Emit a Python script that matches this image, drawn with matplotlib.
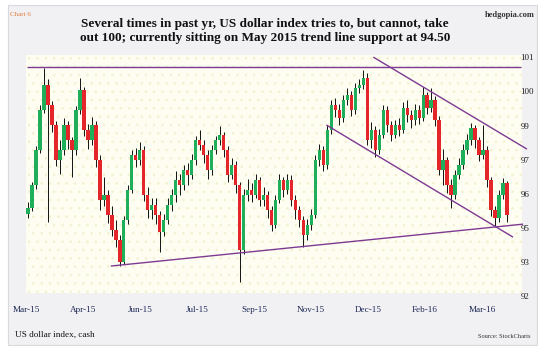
import numpy as np
import matplotlib
matplotlib.use("Agg")
import matplotlib.pyplot as plt
from matplotlib.patches import Rectangle

# US dollar index, cash - roughly two trading days per candle, Mar-15 .. Mar-16
opens = [95.10, 95.32, 96.18, 97.50, 99.01, 99.95, 99.20, 98.45, 97.13, 97.50,
         98.45, 97.88, 97.50, 99.01, 99.77, 98.26, 97.88, 98.45, 97.13, 95.62,
         95.81, 95.05, 94.49, 94.11, 93.28, 94.87, 96.00, 97.32, 97.13, 97.50,
         95.81, 95.24, 95.43, 95.05, 94.41, 94.87, 95.43, 95.81, 96.37, 96.18,
         96.75, 96.56, 97.13, 97.88, 97.69, 97.32, 96.75, 97.50, 97.88, 98.07,
         97.50, 96.56, 96.94, 96.18, 93.73, 95.81, 96.00, 95.81, 96.37, 95.62,
         95.81, 95.24, 94.68, 95.62, 96.37, 96.00, 96.37, 95.62, 95.24, 94.87,
         94.30, 94.68, 95.05, 97.13, 97.50, 96.94, 98.26, 99.20, 99.01, 98.71,
         99.39, 99.58, 99.01, 99.84, 99.95, 100.22, 97.88, 98.26, 97.50, 98.07,
         99.01, 98.45, 98.07, 98.45, 98.26, 99.09, 98.82, 98.64, 99.01, 98.71,
         99.58, 99.09, 99.39, 98.64, 96.75, 97.13, 96.18, 95.81, 96.56, 96.94,
         97.50, 97.88, 98.33, 97.88, 97.32, 97.50, 96.37, 95.24, 94.95, 95.81,
         96.26]
closes = [95.32, 96.18, 97.50, 99.01, 99.95, 99.20, 98.45, 97.13, 97.50, 98.45,
          97.88, 97.50, 99.01, 99.77, 98.26, 97.88, 98.45, 97.13, 95.62, 95.81,
          95.05, 94.49, 94.11, 93.28, 94.87, 96.00, 97.32, 97.13, 97.50, 95.81,
          95.24, 95.43, 95.05, 94.41, 94.87, 95.43, 95.81, 96.37, 96.18, 96.75,
          96.56, 97.13, 97.88, 97.69, 97.32, 96.75, 97.50, 97.88, 98.07, 97.50,
          96.56, 96.94, 96.18, 93.73, 95.81, 96.00, 95.81, 96.37, 95.62, 95.81,
          95.24, 94.68, 95.62, 96.37, 96.00, 96.37, 95.62, 95.24, 94.87, 94.30,
          94.68, 95.05, 97.13, 97.50, 96.94, 98.26, 99.20, 99.01, 98.71, 99.39,
          99.58, 99.01, 99.84, 99.95, 100.22, 97.88, 98.26, 97.50, 98.07, 99.01,
          98.45, 98.07, 98.45, 98.26, 99.09, 98.82, 98.64, 99.01, 98.71, 99.58,
          99.09, 99.39, 98.64, 96.75, 97.13, 96.18, 95.81, 96.56, 96.94, 97.50,
          97.88, 98.33, 97.88, 97.32, 97.50, 96.37, 95.24, 94.95, 95.81, 96.26,
          95.05]
highs = [95.55, 96.30, 97.65, 99.20, 100.60, 100.20, 99.35, 98.60, 97.90, 98.70,
         98.60, 98.00, 99.15, 100.22, 99.90, 98.50, 98.75, 98.60, 97.30, 96.50,
         96.00, 95.40, 94.85, 94.30, 95.00, 96.20, 97.50, 97.60, 97.80, 97.65,
         96.10, 95.70, 95.70, 95.20, 95.10, 95.70, 96.05, 96.70, 96.60, 96.95,
         97.00, 97.35, 98.05, 98.26, 97.90, 97.50, 97.70, 98.05, 98.40, 98.20,
         97.65, 97.20, 97.10, 96.30, 96.05, 96.40, 96.25, 96.60, 96.50, 96.10,
         95.95, 95.40, 95.80, 96.60, 96.50, 96.60, 96.55, 95.80, 95.40, 95.00,
         94.90, 95.30, 97.30, 97.75, 97.65, 98.45, 99.40, 99.45, 99.25, 99.60,
         99.85, 99.75, 100.05, 100.20, 100.52, 100.40, 98.55, 98.40, 98.30, 99.20,
         99.15, 98.60, 98.65, 98.70, 99.30, 99.40, 99.00, 99.25, 99.20, 99.88,
         99.70, 99.84, 99.55, 98.80, 97.55, 97.25, 96.40, 96.75, 97.20, 97.75,
         98.10, 98.52, 98.45, 98.00, 98.45, 97.65, 96.50, 95.40, 96.00, 96.45,
         96.35]
lows = [94.95, 95.20, 96.05, 97.40, 98.90, 94.80, 98.20, 96.90, 96.60, 97.30,
        97.55, 96.50, 97.30, 98.85, 98.05, 97.55, 97.70, 96.85, 95.25, 95.40,
        94.75, 94.25, 93.85, 93.15, 93.20, 94.70, 95.90, 96.85, 96.95, 95.60,
        94.95, 94.90, 94.70, 93.66, 94.25, 94.70, 95.20, 95.55, 95.80, 96.00,
        96.20, 96.40, 96.95, 97.50, 97.00, 96.40, 96.55, 97.35, 97.70, 97.25,
        96.30, 96.40, 95.90, 92.53, 93.60, 95.60, 95.55, 95.70, 95.40, 95.40,
        94.95, 94.45, 94.55, 95.50, 95.75, 95.85, 95.40, 94.90, 94.60, 93.85,
        94.10, 94.50, 94.95, 96.90, 96.70, 96.80, 98.10, 98.75, 98.45, 98.55,
        99.20, 98.80, 98.85, 99.65, 99.80, 97.70, 97.60, 97.25, 97.35, 97.95,
        98.20, 97.85, 97.95, 98.05, 98.15, 98.55, 98.35, 98.45, 98.50, 98.60,
        98.85, 98.95, 98.40, 96.55, 96.20, 95.90, 95.32, 95.65, 96.40, 96.80,
        97.35, 97.70, 97.60, 97.10, 97.15, 96.10, 95.00, 94.64, 94.80, 95.65,
        94.79]

# trend lines: (start candle, start price, end candle, end price)
resistance = (-0.25, 100.62, 123.5, 100.62)
support_may15 = (20.75, 93.13, 124.0, 94.71)
channel_top = (86.5, 101.01, 125.0, 97.54)
channel_bottom = (74.75, 98.45, 121.5, 94.22)

month_labels = ["Mar-15", "Apr-15", "Jun-15", "Jul-15", "Sep-15",
                "Nov-15", "Dec-15", "Feb-16", "Mar-16"]
price_labels = ["92", "93", "95", "96", "97", "99", "100", "101"]

o = np.array(opens)
c = np.array(closes)
h = np.array(highs)
l = np.array(lows)
x = np.arange(len(c))

fig = plt.figure(figsize=(5.47, 3.56), dpi=100)
fig.patch.set_facecolor("white")
serif = ["Liberation Serif", "DejaVu Serif"]
plt.rcParams["hatch.linewidth"] = 0.6

# grey card behind everything
fig.patches.append(Rectangle((8 / 547, 11 / 356), 529 / 547, 340 / 356,
                             transform=fig.transFigure, facecolor="#f1f1f3",
                             edgecolor="#d9d9de", lw=0.8, zorder=-5))

ax = fig.add_axes([26 / 547, 1 - 296 / 356, 496 / 547, 241 / 356])
ax.set_zorder(2)
ax.set_facecolor("none")
ax.add_patch(Rectangle((0, 0.012), 1, 0.988, transform=ax.transAxes,
                       facecolor="#fefdf1", edgecolor="#f5efd2", hatch="..",
                       lw=0, zorder=0))

up = c >= o
col = np.where(up, "#1fae5a", "#e4262a")
ax.vlines(x, l, h, color="#111111", lw=0.7, zorder=2)
body = np.maximum(np.abs(c - o), 0.06)
ax.bar(x, body, bottom=np.minimum(o, c), width=0.85, color=col,
       edgecolor="none", zorder=3)

for x0, y0, x1, y1 in [resistance, support_may15, channel_top, channel_bottom]:
    ax.plot([x0, x1], [y0, y1], color="#7d3a93", lw=1.0, zorder=4,
            clip_on=False, solid_capstyle="butt")

ax.set_xlim(-0.25, 123.75)
ax.set_ylim(92.0, 101.09)
for s in ax.spines.values():
    s.set_visible(False)

ax.set_yticks(np.linspace(92, 101, len(price_labels)))
ax.set_yticklabels(price_labels, family=serif, fontsize=6.5, color="#222222")
ax.yaxis.tick_right()
ax.tick_params(axis="y", length=0, pad=-1)

# month labels are evenly spaced across the plot, not on calendar dates
ax.set_xticks(np.linspace(-0.5, 113.75, len(month_labels)))
ax.set_xticklabels(month_labels, family=serif, fontsize=6.6, color="#1c2755")
ax.tick_params(axis="x", length=0, pad=7)

fig.text(265 / 547, 1 - 31 / 356,
         "Several times in past yr, US dollar index tries to, but cannot, take\n"
         "out 100; currently sitting on May 2015 trend line support at 94.50",
         ha="center", va="center", family=serif, fontweight="bold",
         fontsize=9.5, linespacing=1.3, color="#111111")
fig.text(10 / 547, 1 - 14 / 356, "Chart 6", family=serif, fontsize=5,
         color="#e07b39", va="center")
fig.text(535 / 547, 1 - 15 / 356, "hedgopia.com", family=serif, fontsize=6,
         fontweight="bold", color="#333333", ha="right", va="center")
fig.text(15 / 547, 1 - 335 / 356, "US dollar index, cash", family=serif,
         fontsize=6.6, color="#111111", va="center")
fig.text(530 / 547, 1 - 337 / 356, "Source: StockCharts", family=serif,
         fontsize=4.6, color="#333333", ha="right", va="center")

fig.savefig("out.png", dpi=100)
